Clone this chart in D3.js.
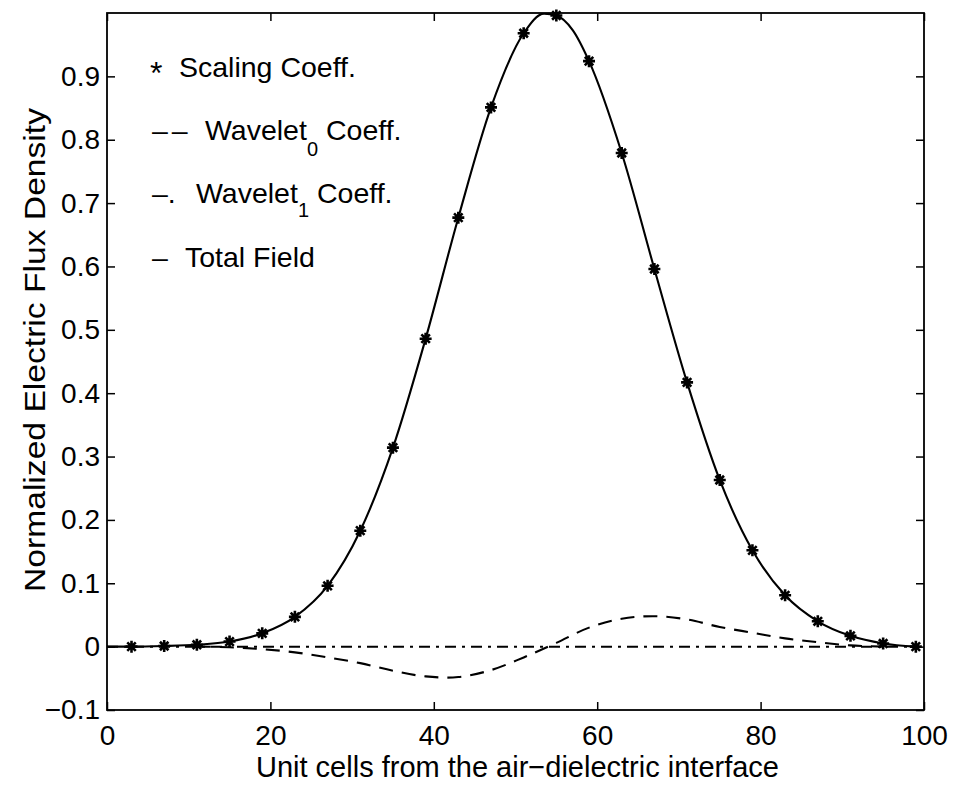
<!DOCTYPE html>
<html>
<head>
<meta charset="utf-8">
<script src="https://cdn.jsdelivr.net/npm/d3@7"></script>
<style>
  html, body { margin: 0; padding: 0; background: #fff; }
  svg { display: block; }
  text { font-family: "Liberation Sans", Arial, Helvetica, sans-serif; fill: #000; }
</style>
</head>
<body>
<svg id="chart" width="958" height="787"></svg>
<script>
// Unit-cell positions where the scaling coefficients are sampled
const scaleCells = [3, 7, 11, 15, 19, 23, 27, 31, 35, 39, 43, 47, 51, 55, 59, 63, 67, 71, 75, 79, 83, 87, 91, 95, 99];
const scalingCoeff = [0, 0.001, 0.003, 0.008, 0.021, 0.047, 0.096, 0.183, 0.314, 0.486, 0.677, 0.851, 0.968, 0.996,
                      0.924, 0.779, 0.596, 0.417, 0.263, 0.152, 0.081, 0.040, 0.017, 0.005, 0];

// Total field (solid line)
const totalCells = [0, 3, 7, 11, 15, 19, 23, 27, 31, 35, 39, 43, 47, 51, 53.5, 55, 57, 59, 63, 67, 71, 75, 79, 83, 87, 91, 95, 99];
const totalField = [0, 0, 0.001, 0.003, 0.008, 0.021, 0.047, 0.096, 0.183, 0.314, 0.486, 0.677, 0.851, 0.968, 0.999, 0.996,
                    0.973, 0.924, 0.779, 0.596, 0.417, 0.263, 0.152, 0.081, 0.040, 0.017, 0.005, 0];

// Wavelet_0 coefficients (dashed line)
const w0Cells = [11, 15, 19, 23, 27, 31, 35, 39, 43, 47, 51, 55, 59, 63, 67, 71, 75, 79, 83, 87, 91, 95];
const wavelet0 = [0, -0.001, -0.004, -0.009, -0.017, -0.026, -0.038, -0.047, -0.048, -0.037, -0.017, 0.006,
                  0.030, 0.044, 0.048, 0.043, 0.031, 0.022, 0.013, 0.007, 0.002, 0];

// Wavelet_1 coefficients (dash-dot line)
const w1Cells = [0, 3, 7, 11, 15, 19, 23, 27, 31, 35, 39, 43, 47, 51, 55, 59, 63, 67, 71, 75, 79, 83, 87, 91, 95, 99];
const wavelet1 = [0, 0, 0, 0, 0, 0, 0, 0, 0, 0, 0, 0, 0, 0, 0, 0, 0, 0, 0, 0, 0, 0, 0, 0, 0, 0];

// Axis ticks
const xTicks = [0, 20, 40, 60, 80, 100];
const yTicks = [-0.1, 0, 0.1, 0.2, 0.3, 0.4, 0.5, 0.6, 0.7, 0.8, 0.9];
const yTickLabels = ["\u22120.1", "0", "0.1", "0.2", "0.3", "0.4", "0.5", "0.6", "0.7", "0.8", "0.9"];

const xTitle = "Unit cells from the air\u2212dielectric interface";
const yTitle = "Normalized Electric Flux Density";

const svg = d3.select("#chart");
const plotLeft = 107, plotRight = 924, plotTop = 13, plotBottom = 710;

const x = d3.scaleLinear().domain([0, 100]).range([plotLeft, plotRight]);
const y = d3.scaleLinear().domain([-0.1, 1.0]).range([plotBottom, plotTop]);

svg.append("clipPath").attr("id", "plotClip")
  .append("rect").attr("x", plotLeft).attr("y", plotTop)
  .attr("width", plotRight - plotLeft).attr("height", plotBottom - plotTop);

const plot = svg.append("g").attr("clip-path", "url(#plotClip)");

const zip = (xs, ys) => xs.map((v, i) => [v, ys[i]]);
const line = d3.line().x(d => x(d[0])).y(d => y(d[1])).curve(d3.curveMonotoneX);

// Wavelet_1: dash-dot
plot.append("path")
  .datum(zip(w1Cells, wavelet1))
  .attr("d", line)
  .attr("fill", "none").attr("stroke", "#000").attr("stroke-width", 2)
  .attr("stroke-dasharray", "11,6,3,6");

// Wavelet_0: dashed
plot.append("path")
  .datum(zip(w0Cells, wavelet0))
  .attr("d", d3.line().x(d => x(d[0])).y(d => y(d[1])).curve(d3.curveCatmullRom))
  .attr("fill", "none").attr("stroke", "#000").attr("stroke-width", 2.1)
  .attr("stroke-dasharray", "14,9");

// Total field: solid
plot.append("path")
  .datum(zip(totalCells, totalField))
  .attr("d", line)
  .attr("fill", "none").attr("stroke", "#000").attr("stroke-width", 2.1);

// Scaling coefficients: 8-armed asterisk markers
const r = 6;
const starPath = (() => {
  const p = d3.path();
  for (let k = 0; k < 4; k++) {
    const a = k * Math.PI / 4;
    p.moveTo(-r * Math.cos(a), -r * Math.sin(a));
    p.lineTo(r * Math.cos(a), r * Math.sin(a));
  }
  return p.toString();
})();
svg.append("g").selectAll("path")
  .data(zip(scaleCells, scalingCoeff))
  .join("path")
  .attr("transform", d => `translate(${x(d[0])},${y(d[1])})`)
  .attr("d", starPath)
  .attr("stroke", "#000").attr("stroke-width", 2.6).attr("fill", "none");

// Axes: ticks point inward on all four sides
const tickLen = 8;
const styleAxis = g => {
  g.select(".domain").remove();
  g.selectAll(".tick line").attr("stroke", "#000").attr("stroke-width", 1.5);
  g.selectAll("text").attr("font-size", 28).attr("font-family", '"Liberation Sans", Arial, sans-serif').attr("fill", "#000");
};

svg.append("g").attr("transform", `translate(0,${plotBottom})`)
  .call(d3.axisBottom(x).tickValues(xTicks).tickSizeInner(-tickLen).tickSizeOuter(0).tickPadding(15).tickFormat(d3.format("d")))
  .call(styleAxis);
svg.append("g").attr("transform", `translate(0,${plotTop})`)
  .call(d3.axisTop(x).tickValues(xTicks).tickSizeInner(-tickLen).tickSizeOuter(0).tickFormat(""))
  .call(styleAxis);
svg.append("g").attr("transform", `translate(${plotLeft},0)`)
  .call(d3.axisLeft(y).tickValues(yTicks).tickSizeInner(-tickLen).tickSizeOuter(0).tickPadding(7)
    .tickFormat((d, i) => yTickLabels[i]))
  .call(styleAxis);
svg.append("g").attr("transform", `translate(${plotRight},0)`)
  .call(d3.axisRight(y).tickValues(yTicks).tickSizeInner(-tickLen).tickSizeOuter(0).tickFormat(""))
  .call(styleAxis);

svg.append("rect")
  .attr("x", plotLeft).attr("y", plotTop).attr("width", plotRight - plotLeft).attr("height", plotBottom - plotTop)
  .attr("fill", "none").attr("stroke", "#000").attr("stroke-width", 1.8);

// Axis titles
svg.append("text")
  .attr("x", (plotLeft + plotRight) / 2 + 2).attr("y", 777)
  .attr("text-anchor", "middle").attr("font-size", 29)
  .text(xTitle);

svg.append("text")
  .attr("transform", `translate(45,350) rotate(-90)`)
  .attr("text-anchor", "middle").attr("font-size", 29)
  .attr("textLength", 484).attr("lengthAdjust", "spacingAndGlyphs")
  .text(yTitle);

// Legend text
const legend = svg.append("g").attr("font-size", 28.5);
legend.append("text").attr("x", 150).attr("y", 84).attr("font-size", 32).text("*");
legend.append("text").attr("x", 179).attr("y", 77).text("Scaling Coeff.");

legend.append("text").attr("x", 152).attr("y", 140).attr("letter-spacing", 4).text("\u2013\u2013");
const w0t = legend.append("text").attr("x", 205).attr("y", 140);
w0t.append("tspan").text("Wavelet");
w0t.append("tspan").attr("font-size", 20).attr("dy", 16).text("0");
w0t.append("tspan").attr("dy", -16).text(" Coeff.");

legend.append("text").attr("x", 152).attr("y", 203).text("\u2013.");
const w1t = legend.append("text").attr("x", 196).attr("y", 203);
w1t.append("tspan").text("Wavelet");
w1t.append("tspan").attr("font-size", 20).attr("dy", 14).text("1");
w1t.append("tspan").attr("dy", -14).text(" Coeff.");

legend.append("text").attr("x", 152).attr("y", 267).text("\u2013");
legend.append("text").attr("x", 185).attr("y", 267).text("Total Field");
</script>
</body>
</html>
